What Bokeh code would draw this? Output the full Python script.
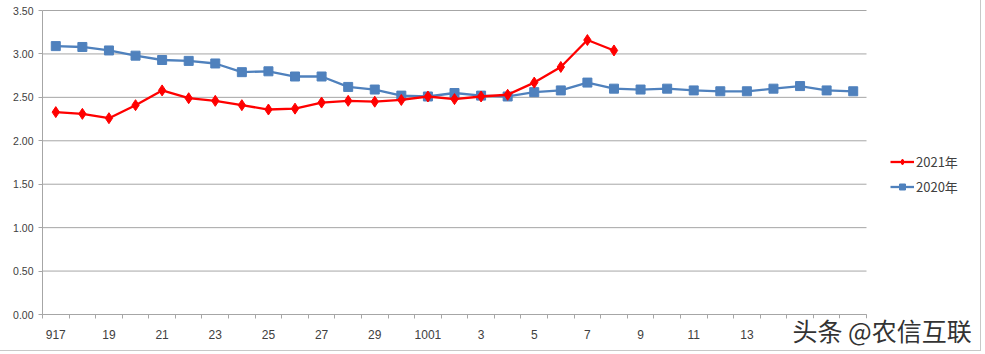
from bokeh.plotting import figure
from bokeh.models import (Legend, LegendItem, FixedTicker, Range1d, Label,
                          NumeralTickFormatter, BoxAnnotation)
from bokeh.embed import file_html
from bokeh.resources import INLINE

categories = ["917", "18", "19", "20", "21", "22", "23", "24", "25", "26", "27",
              "28", "29", "30", "1001", "2", "3", "4", "5", "6", "7", "8", "9",
              "10", "11", "12", "13", "14", "15", "16", "17"]
series_2020 = [3.09, 3.08, 3.04, 2.98, 2.93, 2.92, 2.89, 2.79, 2.80, 2.74, 2.74,
               2.62, 2.59, 2.52, 2.51, 2.55, 2.52, 2.51, 2.56, 2.58, 2.67, 2.60,
               2.59, 2.60, 2.58, 2.57, 2.57, 2.60, 2.63, 2.58, 2.57]
series_2021 = [2.33, 2.31, 2.26, 2.41, 2.58, 2.49, 2.46, 2.41, 2.36, 2.37, 2.44,
               2.46, 2.45, 2.47, 2.51, 2.48, 2.51, 2.53, 2.67, 2.85, 3.16, 3.04]
y_ticks = [0.0, 0.5, 1.0, 1.5, 2.0, 2.5, 3.0, 3.5]
legend_labels = ["2021年", "2020年"]
watermark = "头条 @农信互联"

x2020 = list(range(len(series_2020)))
x2021 = list(range(len(series_2021)))
n = len(categories)

# layout geometry (pixels): plot area 42..866 horizontally, 10..314 vertically
W, H = 981, 351
L, R, T, B = 42, 866, 10, 314
ux = (R - L) / n
uy = (B - T) / y_ticks[-1]
x0 = -0.5 - L / ux
y1 = y_ticks[-1] + T / uy

p = figure(width=W, height=H, output_backend="svg", toolbar_location=None,
           x_range=Range1d(x0, x0 + W / ux),
           y_range=Range1d(y1 - H / uy, y1),
           min_border=0)
p.styles = {"border-right": "1px solid #c8c8c8", "border-bottom": "1px solid #c8c8c8"}
p.outline_line_color = None
p.background_fill_color = "white"
p.border_fill_color = "white"
p.xgrid.grid_line_color = None
p.ygrid.grid_line_color = None

# horizontal gridlines restricted to the plot area
p.segment(x0=[-0.5] * len(y_ticks), x1=[n - 0.5] * len(y_ticks),
          y0=y_ticks, y1=y_ticks, line_color="#a6a6a6", line_width=1)

# axes at fixed locations
label_idx = list(range(0, n, 2))
xa = p.xaxis[0]
xa.fixed_location = 0
xa.bounds = (-0.5, n - 0.5)
xa.ticker = FixedTicker(ticks=label_idx,
                        minor_ticks=[i - 0.5 for i in range(n + 1)])
xa.major_label_overrides = {i: categories[i] for i in label_idx}
xa.major_tick_line_color = None
xa.minor_tick_line_color = "#a6a6a6"
xa.minor_tick_in = 0
xa.minor_tick_out = 4
xa.axis_line_color = "#a6a6a6"
xa.major_label_text_font = "Liberation Sans"
xa.major_label_text_font_size = "12px"
xa.major_label_text_color = "#404040"
xa.major_label_standoff = 9

ya = p.yaxis[0]
ya.fixed_location = -0.5
ya.bounds = (0, y_ticks[-1])
ya.ticker = FixedTicker(ticks=y_ticks)
ya.formatter = NumeralTickFormatter(format="0.00")
ya.major_tick_line_color = "#a6a6a6"
ya.major_tick_in = 0
ya.major_tick_out = 4
ya.minor_tick_line_color = None
ya.axis_line_color = "#a6a6a6"
ya.major_label_text_font = "Liberation Sans"
ya.major_label_text_font_size = "10.5px"
ya.major_label_text_color = "#404040"
ya.major_label_standoff = 5

# series
blue = "#4F81BD"
red = "#FF0000"
l20 = p.line(x2020, series_2020, line_color=blue, line_width=2.3)
m20 = p.scatter(x2020, series_2020, marker="square", size=9, fill_color=blue,
                line_color=blue)
l21 = p.line(x2021, series_2021, line_color=red, line_width=2.3)
m21 = p.scatter(x2021, series_2021, marker="diamond", size=11, fill_color=red,
                line_color=red)

legend = Legend(items=[LegendItem(label=legend_labels[0], renderers=[l21, m21]),
                       LegendItem(label=legend_labels[1], renderers=[l20, m20])],
                location=(890, H - 196), orientation="vertical",
                border_line_color=None, background_fill_alpha=0,
                label_text_font="Noto Sans CJK SC", label_text_font_size="13px",
                label_text_color="#404040", glyph_width=24, glyph_height=15,
                label_height=15, spacing=6, padding=0, margin=0,
                label_standoff=2)
p.add_layout(legend)

# white patch under the watermark (the watermark hides the last tick labels)
patch = BoxAnnotation(left=788, right=976, top=H - 318, bottom=H - 349,
                      left_units="screen", right_units="screen",
                      top_units="screen", bottom_units="screen",
                      fill_color="white", fill_alpha=1.0, line_color=None)
p.add_layout(patch)

wm = Label(x=792, y=H - 329, x_units="screen", y_units="screen", text=watermark,
           text_font="Noto Sans CJK SC", text_font_size="25px",
           text_baseline="middle", text_color="#333333")
p.add_layout(wm)

open("out.html", "w").write(file_html(p, INLINE))
